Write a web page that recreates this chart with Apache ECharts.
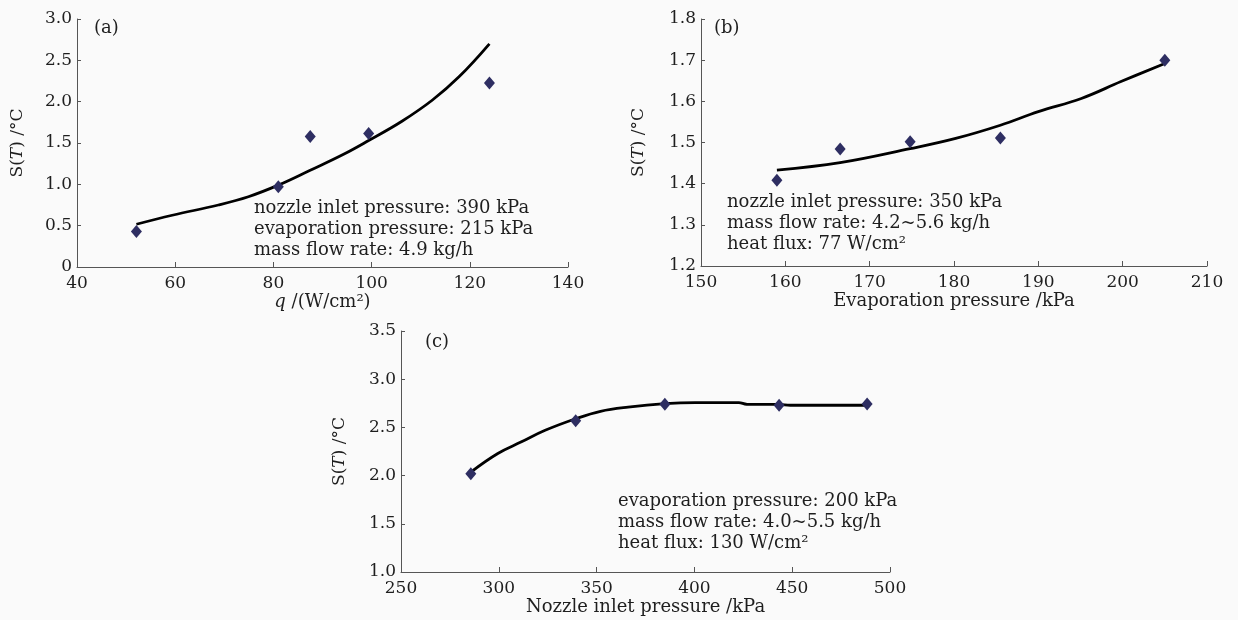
<!DOCTYPE html>
<html>
<head>
<meta charset="utf-8">
<script src="https://cdn.jsdelivr.net/npm/echarts@6/dist/echarts.min.js"></script>
<style>
  html, body { margin: 0; padding: 0; background: #fafafa; }
  #chart { width: 1238px; height: 620px; }
</style>
</head>
<body>
<div id="chart"></div>
<script>
  // (a) heat flux
  var qA = [52.1, 81.0, 87.5, 99.4, 124.0];
  var sA = [0.43, 0.97, 1.58, 1.615, 2.225];
  var qFitA = [52.1, 59.4, 68.8, 74.9, 81.0, 87.5, 94.5, 99.4, 106.1, 112.4, 117.8, 124.0];
  var sFitA = [0.517, 0.626, 0.75, 0.85, 0.99, 1.17, 1.37, 1.53, 1.76, 2.02, 2.30, 2.70];

  // (b) evaporation pressure
  var pB = [159.0, 166.5, 174.8, 185.5, 205.0];
  var sB = [1.408, 1.484, 1.502, 1.511, 1.70];
  var pFitB = [159.0, 166.5, 174.8, 180.2, 185.5, 190.0, 195.1, 199.8, 205.0];
  var sFitB = [1.433, 1.451, 1.485, 1.51, 1.542, 1.575, 1.607, 1.648, 1.692];

  // (c) nozzle inlet pressure
  var pC = [285.7, 339.3, 384.9, 443.3, 488.3];
  var sC = [2.02, 2.57, 2.74, 2.73, 2.743];
  var pFitC = [285.7, 299.5, 311.6, 323.7, 339.3, 352.0, 366.1, 385.0, 400.4, 422.7, 426.7, 443.3, 449.0, 488.3];
  var sFitC = [2.037, 2.23, 2.35, 2.47, 2.59, 2.667, 2.71, 2.746, 2.757, 2.757, 2.74, 2.739, 2.73, 2.73];

  var notesA = ['nozzle inlet pressure: 390 kPa', 'evaporation pressure: 215 kPa', 'mass flow rate: 4.9 kg/h'];
  var notesB = ['nozzle inlet pressure: 350 kPa', 'mass flow rate: 4.2~5.6 kg/h', 'heat flux: 77 W/cm\u00b2'];
  var notesC = ['evaporation pressure: 200 kPa', 'mass flow rate: 4.0~5.5 kg/h', 'heat flux: 130 W/cm\u00b2'];

  var FONT = '"DejaVu Serif", serif';
  var INK = '#1e1e1e';

  function zip(xs, ys) {
    return xs.map(function (x, i) { return [x, ys[i]]; });
  }

  var yName = '{n|S(}{i|T}{n|) /\u00b0C}';
  var yRich = {
    n: { fontFamily: FONT, fontSize: 17, color: INK },
    i: { fontFamily: FONT, fontSize: 17, color: INK, fontStyle: 'italic' }
  };
  var xRich = {
    n: { fontFamily: FONT, fontSize: 18, color: INK },
    i: { fontFamily: FONT, fontSize: 18, color: INK, fontStyle: 'italic' }
  };

  function xAxis(idx, min, max, interval, name) {
    return {
      type: 'value', gridIndex: idx, min: min, max: max, interval: interval,
      name: name, nameLocation: 'middle', nameGap: 25,
      nameTextStyle: { rich: xRich, fontFamily: FONT, fontSize: 18, color: INK },
      axisLine: { lineStyle: { color: '#555', width: 1 } },
      axisTick: { inside: true, length: 5, lineStyle: { color: '#555' } },
      axisLabel: { fontFamily: FONT, fontSize: 17, color: INK, margin: 8 },
      splitLine: { show: false }
    };
  }

  function yAxis(idx, min, max, interval, gap, fmt) {
    return {
      type: 'value', gridIndex: idx, min: min, max: max, interval: interval,
      name: yName, nameLocation: 'middle', nameGap: gap, nameRotate: 90,
      nameTextStyle: { rich: yRich },
      axisLine: { show: true, lineStyle: { color: '#555', width: 1 } },
      axisTick: { show: true, inside: true, length: 4, lineStyle: { color: '#555' } },
      axisLabel: { fontFamily: FONT, fontSize: 17, color: INK, margin: 5, formatter: fmt },
      splitLine: { show: false }
    };
  }

  function fitLine(idx, data) {
    return {
      type: 'line', xAxisIndex: idx, yAxisIndex: idx, data: data,
      smooth: 0.4, showSymbol: false, silent: true,
      lineStyle: { color: '#000', width: 2.8 }, z: 2
    };
  }

  function dots(idx, data) {
    return {
      type: 'scatter', xAxisIndex: idx, yAxisIndex: idx, data: data,
      symbol: 'diamond', symbolSize: [11, 13],
      itemStyle: { color: '#2e2e62', opacity: 1 }, z: 3
    };
  }

  function note(left, top, lines) {
    return {
      type: 'text', left: left, top: top,
      style: { text: lines.join('\n'), fontFamily: FONT, fontSize: 18, lineHeight: 21, fill: INK }
    };
  }

  function tag(left, top, txt) {
    return {
      type: 'text', left: left, top: top,
      style: { text: txt, fontFamily: FONT, fontSize: 18, fill: INK }
    };
  }

  var chart = echarts.init(document.getElementById('chart'));
  chart.setOption({
    backgroundColor: '#fafafa',
    animation: false,
    grid: [
      { left: 77, top: 19, width: 491, height: 248 },
      { left: 701, top: 19, width: 506, height: 247 },
      { left: 401, top: 331, width: 489, height: 241 }
    ],
    xAxis: [
      xAxis(0, 40, 140, 20, '{i|q} {n|/(W/cm\u00b2)}'),
      xAxis(1, 150, 210, 10, 'Evaporation pressure /kPa'),
      xAxis(2, 250, 500, 50, 'Nozzle inlet pressure /kPa')
    ],
    yAxis: [
      yAxis(0, 0, 3, 0.5, 51, function (v) { return v === 0 ? '0' : v.toFixed(1); }),
      yAxis(1, 1.2, 1.8, 0.1, 54, function (v) { return v.toFixed(1); }),
      yAxis(2, 1.0, 3.5, 0.5, 53, function (v) { return v.toFixed(1); })
    ],
    series: [
      fitLine(0, zip(qFitA, sFitA)),
      dots(0, zip(qA, sA)),
      fitLine(1, zip(pFitB, sFitB)),
      dots(1, zip(pB, sB)),
      fitLine(2, zip(pFitC, sFitC)),
      dots(2, zip(pC, sC))
    ],
    graphic: [
      tag(94, 19, '(a)'),
      tag(714, 19, '(b)'),
      tag(425, 333, '(c)'),
      note(254, 198, notesA),
      note(727, 192, notesB),
      note(618, 491, notesC)
    ]
  });
</script>
</body>
</html>
